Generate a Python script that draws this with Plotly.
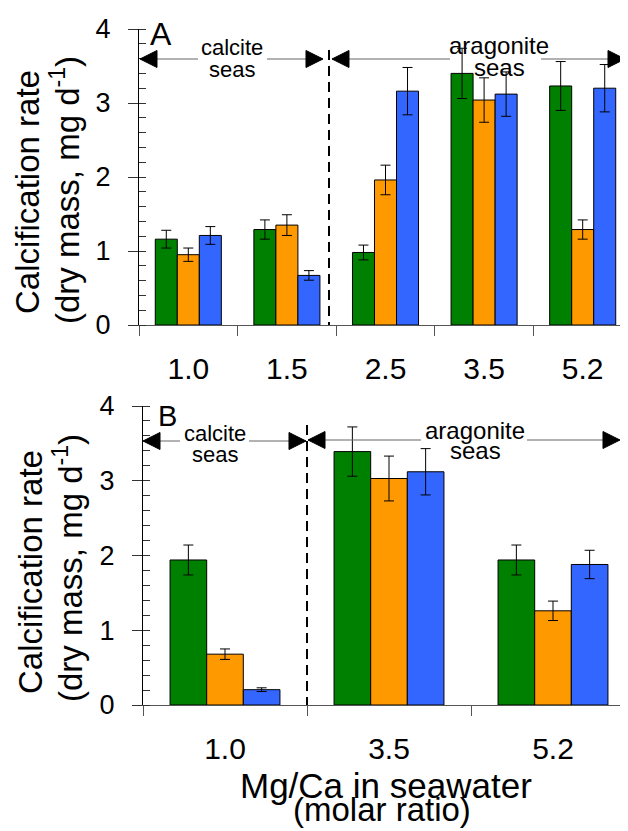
import plotly.graph_objects as go

# ---------------- data ----------------
cats_A = ["1.0", "1.5", "2.5", "3.5", "5.2"]
green_A = [1.16, 1.29, 0.98, 3.40, 3.23]
green_A_err = [0.12, 0.13, 0.10, 0.34, 0.33]
orange_A = [0.95, 1.35, 1.96, 3.04, 1.29]
orange_A_err = [0.09, 0.14, 0.20, 0.30, 0.13]
blue_A = [1.21, 0.67, 3.16, 3.12, 3.20]
blue_A_err = [0.12, 0.065, 0.32, 0.30, 0.32]

cats_B = ["1.0", "3.5", "5.2"]
green_B = [1.94, 3.39, 1.94]
green_B_err = [0.20, 0.33, 0.20]
orange_B = [0.68, 3.03, 1.26]
orange_B_err = [0.07, 0.30, 0.13]
blue_B = [0.205, 3.12, 1.88]
blue_B_err = [0.025, 0.31, 0.19]

y_ticks = [0, 1, 2, 3, 4]

# ---------------- styles ----------------
W, H = 628, 831
OFF = 8  # default page body margin of the html page
FONT = "Liberation Sans, Arial, sans-serif"
GREEN, ORANGE, BLUE = "#008000", "#FF9900", "#3366FF"


def px(x):
    return (x - OFF) / W


def py(y):
    return 1 - (y - OFF) / H


fig = go.Figure()


def add_group(xaxis, yaxis, cats, vals, errs, color):
    fig.add_trace(go.Bar(
        x=cats, y=vals, xaxis=xaxis, yaxis=yaxis,
        marker=dict(color=color, line=dict(color="black", width=1)),
        error_y=dict(type="data", array=errs, color="black", thickness=1, width=5),
        showlegend=False,
    ))


add_group("x", "y", cats_A, green_A, green_A_err, GREEN)
add_group("x", "y", cats_A, orange_A, orange_A_err, ORANGE)
add_group("x", "y", cats_A, blue_A, blue_A_err, BLUE)
add_group("x2", "y2", cats_B, green_B, green_B_err, GREEN)
add_group("x2", "y2", cats_B, orange_B, orange_B_err, ORANGE)
add_group("x2", "y2", cats_B, blue_B, blue_B_err, BLUE)

xax_common = dict(
    type="category", tickson="boundaries", ticks="outside", ticklen=10,
    tickcolor="#555555", tickwidth=1, showline=True, linecolor="#555555",
    linewidth=1.2, showgrid=False, zeroline=False, automargin=False,
    tickfont=dict(family=FONT, size=30, color="black"),
    ticklabelstandoff=17,
)
yax_common = dict(
    range=[0, 4], tickvals=y_ticks, ticks="outside", ticklen=10,
    tickcolor="#333333", tickwidth=1, showline=True, linecolor="black",
    linewidth=1, showgrid=False, zeroline=False, automargin=False,
    tickfont=dict(family=FONT, size=27, color="black"),
    ticklabelstandoff=12,
    minor=dict(ticks="inside", ticklen=7, dtick=0.2, tickcolor="#333333", tickwidth=1),
)

fig.update_layout(
    template="none",
    width=W, height=H, margin=dict(l=0, r=0, t=0, b=0, autoexpand=False),
    paper_bgcolor="white", plot_bgcolor="white",
    barmode="group", bargap=0.33, bargroupgap=0,
    font=dict(family=FONT, color="black"),
    xaxis=dict(domain=[px(139), px(632)], range=[-0.5, 4.5], anchor="y", **xax_common),
    yaxis=dict(domain=[py(325), py(29)], anchor="x", **yax_common),
    xaxis2=dict(domain=[px(143), px(635)], range=[-0.5, 2.5], anchor="y2", **xax_common),
    yaxis2=dict(domain=[py(705), py(406)], anchor="x2", **yax_common),
)

shapes = []
annotations = []


def seg(x0, x1, y, color="#666666", width=1.2):
    shapes.append(dict(type="line", xref="paper", yref="paper",
                       x0=px(x0), x1=px(x1), y0=py(y), y1=py(y),
                       line=dict(color=color, width=width)))


HEAD_LEN, HEAD_HALF = 17, 8.5


def head(x, y, direction):
    base = x + HEAD_LEN if direction == "left" else x - HEAD_LEN
    path = "M {:.5f},{:.5f} L {:.5f},{:.5f} L {:.5f},{:.5f} Z".format(
        px(x), py(y), px(base), py(y - HEAD_HALF), px(base), py(y + HEAD_HALF))
    shapes.append(dict(type="path", xref="paper", yref="paper", path=path,
                       fillcolor="black", line=dict(color="black", width=1)))


def dashed(x, y0, y1):
    shapes.append(dict(type="line", xref="paper", yref="paper",
                       x0=px(x), x1=px(x), y0=py(y0), y1=py(y1),
                       line=dict(color="black", width=2, dash="10px,6px")))


def label(text, x, y, size, angle=0):
    annotations.append(dict(
        xref="paper", yref="paper", x=px(x), y=py(y), text=text,
        showarrow=False, xanchor="center", yanchor="middle", textangle=angle,
        font=dict(family=FONT, size=size, color="black"),
    ))


# Panel A decorations
seg(140, 198, 59); seg(267, 323, 59)
head(140, 59, "left"); head(323, 59, "right")
seg(332, 450, 59); seg(541, 625, 59)
head(332, 59, "left"); head(625, 59, "right")
dashed(329, 50, 325)
label("A", 161, 34, 32)
label("calcite", 232, 47, 22)
label("seas", 232, 69, 22)
label("aragonite", 499, 45, 24)
label("seas", 499, 67, 24)

# Panel B decorations
seg(143, 180, 441); seg(249, 306, 441)
head(143, 441, "left"); head(306, 441, "right")
seg(308, 421, 440); seg(527, 620, 440)
head(308, 440, "left"); head(620, 440, "right")
dashed(307, 425, 705)
label("B", 167, 416, 29)
label("calcite", 215, 433, 22)
label("seas", 215, 454, 22)
label("aragonite", 475, 430, 24)
label("seas", 475, 451, 24)

# Axis titles
label("Calcification rate", 27, 192, 33, -90)
label("(dry mass, mg d<sup>-1</sup>)", 65, 190, 33, -90)
label("Calcification rate", 30, 572, 33, -90)
label("(dry mass, mg d<sup>-1</sup>)", 68, 568, 33, -90)
label("Mg/Ca in seawater", 386, 785, 35)
label("(molar ratio)", 382, 809, 33)

fig.update_layout(shapes=shapes, annotations=annotations)
fig.write_html("out.html")
